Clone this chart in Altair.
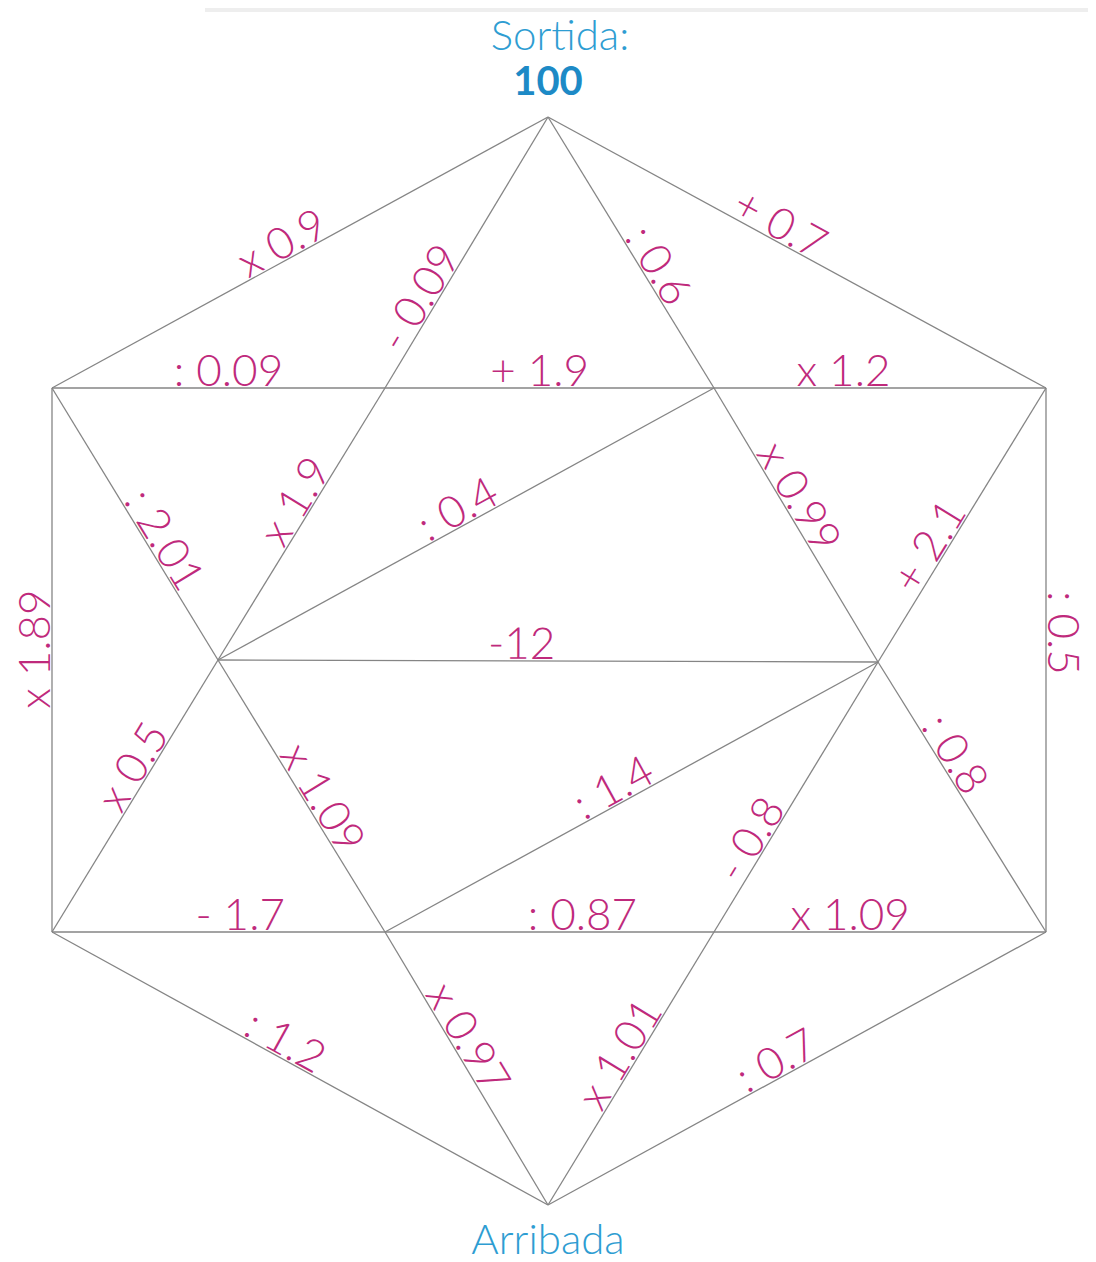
import math
import altair as alt
import pandas as pd

# ---- data: nodes of the diagram (picture coordinates) ----
node_names = ["T", "UL", "P1", "P2", "UR", "LM", "RM", "LL", "Q1", "Q2", "LR", "B"]
node_x = [548, 52, 385, 714, 1046, 218, 878, 52, 385, 714, 1046, 548]
node_y = [117, 388, 388, 388, 388, 660, 662, 932, 932, 932, 932, 1205]

# ---- data: edges (reading direction from -> to), their operation labels and label position along edge ----
edge_from = ["UL", "P1", "T", "T", "UL", "P1", "P2", "UL", "LM", "LM", "P2", "RM", "LL", "UR",
             "LM", "LL", "LM", "Q1", "Q2", "RM", "LL", "Q1", "Q2", "LL", "Q1", "B", "B"]
edge_to = ["T", "T", "P2", "UR", "P1", "P2", "UR", "LM", "P1", "P2", "RM", "UR", "UL", "LR",
           "RM", "LM", "Q1", "RM", "RM", "LR", "Q1", "Q2", "LR", "B", "B", "Q2", "LR"]
labels = ["x 0.9", "- 0.09", ": 0.6", "+ 0.7", ": 0.09", "+ 1.9", "x 1.2", ": 2.01", "x 1.9",
          ": 0.4", "x 0.99", "+ 2.1", "x 1.89", ": 0.5", "-12", "x 0.5", "x 1.09", ": 1.4",
          "- 0.8", ": 0.8", "- 1.7", ": 0.87", "x 1.09", ": 1.2", "x 0.97", "x 1.01", ": 0.7"]
label_t = [0.48, 0.30, 0.58, 0.45, 0.53, 0.47, 0.39, 0.59, 0.55, 0.50, 0.43, 0.39, 0.52, 0.45,
           0.46, 0.575, 0.54, 0.48, 0.31, 0.375, 0.565, 0.60, 0.41, 0.454, 0.42, 0.52, 0.475]

start_text = "Sortida:"
start_value = "100"
end_text = "Arribada"

# ---- build tables ----
pos = {n: (x, y) for n, x, y in zip(node_names, node_x, node_y)}
rows = []
for a, b, lab, t in zip(edge_from, edge_to, labels, label_t):
    ax, ay = pos[a]
    bx, by = pos[b]
    ang = math.degrees(math.atan2(by - ay, bx - ax)) % 360
    rows.append({"x": ax, "y": ay, "x2": bx, "y2": by, "label": lab,
                 "lx": ax + t * (bx - ax), "ly": ay + t * (by - ay), "ang": ang})
edges = pd.DataFrame(rows)

titles = pd.DataFrame({"text": [start_text, start_value, end_text],
                       "x": [pos["T"][0] + 12, pos["T"][0], pos["B"][0]],
                       "y": [37, 83, 1241],
                       "kind": ["a", "b", "a"]})

band = pd.DataFrame({"x": [205], "x2": [1096], "y": [10]})

W, H = 1080, 1246
xs = alt.Scale(domain=[8, 8 + W], nice=False, zero=False)
ys = alt.Scale(domain=[8, 8 + H], nice=False, zero=False, reverse=True)
noax = None

base = alt.Chart(edges)

band_layer = alt.Chart(band).mark_rule(color="#eeeeee", strokeWidth=4, clip=True).encode(
    x=alt.X("x:Q", scale=xs, axis=noax), x2="x2:Q",
    y=alt.Y("y:Q", scale=ys, axis=noax))

lines = base.mark_rule(color="#858585", strokeWidth=1.3).encode(
    x=alt.X("x:Q", scale=xs, axis=noax), y=alt.Y("y:Q", scale=ys, axis=noax),
    x2="x2:Q", y2="y2:Q")

texts = base.mark_text(font="Lato", fontSize=44, fontWeight=300, color="#bf2a7c",
                       align="center", baseline="alphabetic", dy=-2).encode(
    x=alt.X("lx:Q", scale=xs, axis=noax), y=alt.Y("ly:Q", scale=ys, axis=noax),
    angle=alt.Angle("ang:Q", scale=None), text="label:N")

t_sortida = alt.Chart(titles[titles.kind == "a"]).mark_text(
    font="Lato", fontSize=42, fontWeight=300, color="#2e9dd2", align="center",
    baseline="middle").encode(
    x=alt.X("x:Q", scale=xs, axis=noax), y=alt.Y("y:Q", scale=ys, axis=noax), text="text:N")

t_value = alt.Chart(titles[titles.kind == "b"]).mark_text(
    font="Lato", fontSize=40, fontWeight="bold", color="#1d8ac6", align="center",
    baseline="middle").encode(
    x=alt.X("x:Q", scale=xs, axis=noax), y=alt.Y("y:Q", scale=ys, axis=noax), text="text:N")

chart = alt.layer(band_layer, lines, texts, t_sortida, t_value).properties(
    width=W, height=H, padding=0, background="white"
).configure_view(stroke=None)

chart.save("out.html", embed_options={"renderer": "svg", "actions": False})
